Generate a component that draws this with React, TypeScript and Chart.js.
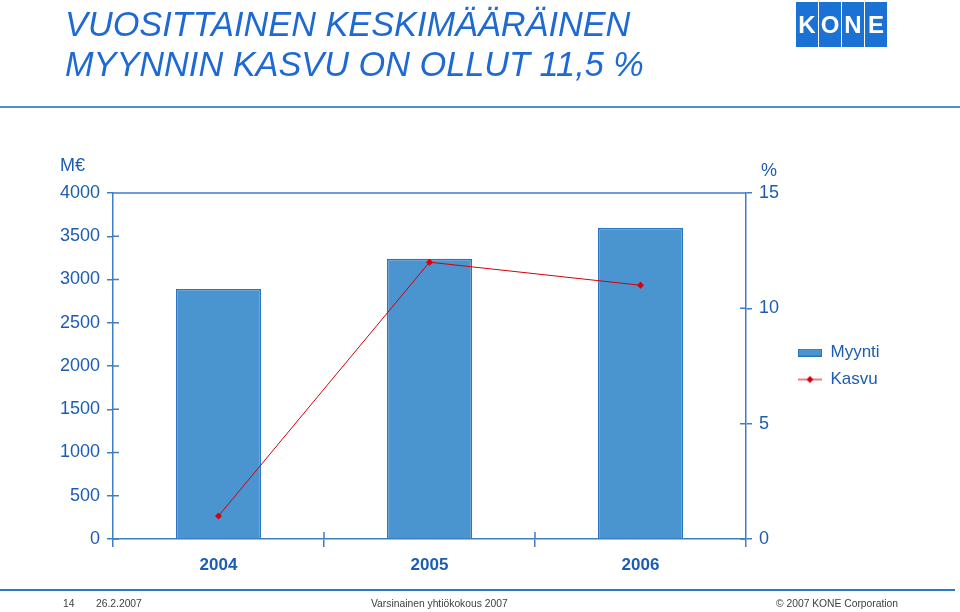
import React, { useEffect, useRef } from "react";
import { Chart, registerables } from "chart.js";

Chart.register(...registerables);

// ---- data ----
const years = ["2004", "2005", "2006"];
const myynti = [2890, 3240, 3595];
const kasvu = [1.0, 12.0, 11.0];
const seriesNames = ["Myynti", "Kasvu"];
const leftMax = 4000;
const leftStep = 500;
const rightMax = 15;
const rightStep = 5;
const titleLines = ["VUOSITTAINEN KESKIMÄÄRÄINEN", "MYYNNIN KASVU ON OLLUT 11,5 %"];
const logoLetters = ["K", "O", "N", "E"];

const FONT = "'Liberation Sans', Arial, Helvetica, sans-serif";
const TICK_BLUE = "#1c5db3";
const AXIS_BLUE = "#3d7ec6";
const BAR_FILL = "#4a94cf";
const BAR_BORDER = "#2a74c4";
const LINE_RED = "#d4000c";

function makeLegendImages() {
  const rect = document.createElement("canvas");
  rect.width = 24;
  rect.height = 8;
  const rc = rect.getContext("2d")!;
  rc.fillStyle = BAR_FILL;
  rc.fillRect(0.5, 0.5, 23, 7);
  rc.strokeStyle = BAR_BORDER;
  rc.lineWidth = 1;
  rc.strokeRect(0.5, 0.5, 23, 7);

  const ln = document.createElement("canvas");
  ln.width = 24;
  ln.height = 10;
  const lc = ln.getContext("2d")!;
  lc.strokeStyle = LINE_RED;
  lc.lineWidth = 1;
  lc.beginPath();
  lc.moveTo(0, 5);
  lc.lineTo(24, 5);
  lc.stroke();
  lc.fillStyle = LINE_RED;
  lc.beginPath();
  lc.moveTo(12, 1.5);
  lc.lineTo(15.5, 5);
  lc.lineTo(12, 8.5);
  lc.lineTo(8.5, 5);
  lc.closePath();
  lc.fill();
  return [rect, ln];
}

const innerTicks = {
  id: "innerTicks",
  afterDraw(chart: any) {
    const { ctx, chartArea } = chart;
    const y = chart.scales.y;
    const y1 = chart.scales.y1;
    const x = chart.scales.x;
    ctx.save();
    ctx.strokeStyle = AXIS_BLUE;
    ctx.lineWidth = 1.5;
    ctx.beginPath();
    // top border
    ctx.moveTo(chartArea.left, chartArea.top);
    ctx.lineTo(chartArea.right, chartArea.top);
    y.ticks.forEach((t: any) => {
      const p = y.getPixelForValue(t.value);
      ctx.moveTo(chartArea.left, p);
      ctx.lineTo(chartArea.left + 6, p);
    });
    y1.ticks.forEach((t: any) => {
      const p = y1.getPixelForValue(t.value);
      ctx.moveTo(chartArea.right, p);
      ctx.lineTo(chartArea.right - 6, p);
    });
    const half = (x.getPixelForTick(1) - x.getPixelForTick(0)) / 2;
    for (let i = 1; i < years.length; i++) {
      const p = x.getPixelForTick(i) - half;
      ctx.moveTo(p, chartArea.bottom);
      ctx.lineTo(p, chartArea.bottom - 7);
    }
    ctx.stroke();
    ctx.restore();
  },
};

function ChartView() {
  const ref = useRef<HTMLCanvasElement | null>(null);
  useEffect(() => {
    if (!ref.current) return;
    const imgs = makeLegendImages();
    const chart = new Chart(ref.current, {
      type: "bar",
      data: {
        labels: years,
        datasets: [
          {
            type: "bar",
            label: seriesNames[0],
            data: myynti,
            backgroundColor: BAR_FILL,
            borderColor: BAR_BORDER,
            borderWidth: 1.5,
            categoryPercentage: 1,
            barPercentage: 0.403,
            yAxisID: "y",
            order: 2,
          },
          {
            type: "line",
            label: seriesNames[1],
            data: kasvu,
            borderColor: LINE_RED,
            backgroundColor: LINE_RED,
            borderWidth: 1,
            pointStyle: "rectRot",
            pointRadius: 3.5,
            pointBorderWidth: 0,
            pointBackgroundColor: LINE_RED,
            yAxisID: "y1",
            order: 1,
          },
        ],
      },
      options: {
        animation: false,
        responsive: false,
        layout: { padding: { top: 193, left: 0, right: 72, bottom: 33 } },
        plugins: {
          tooltip: { enabled: false },
          legend: {
            position: "right",
            align: "center",
            fullSize: false,
            maxWidth: 100,
            labels: {
              usePointStyle: true,
              pointStyleWidth: 24,
              boxHeight: 10,
              padding: 10,
              color: TICK_BLUE,
              font: { family: FONT, size: 17 },
              generateLabels: () =>
                seriesNames.map((n, i) => ({
                  text: n,
                  pointStyle: imgs[i],
                  fillStyle: "transparent",
                  strokeStyle: "transparent",
                  lineWidth: 0,
                  hidden: false,
                  datasetIndex: i,
                  fontColor: TICK_BLUE,
                })),
            },
          },
        },
        scales: {
          x: {
            grid: {
              offset: true,
              drawOnChartArea: false,
              tickLength: 8,
              color: AXIS_BLUE,
              lineWidth: 1.5,
            },
            border: { color: AXIS_BLUE, width: 1.5 },
            ticks: {
              color: TICK_BLUE,
              padding: 8,
              font: { family: FONT, size: 17, weight: "bold" },
            },
            afterFit: (s: any) => {
              s.height = 40;
            },
          },
          y: {
            position: "left",
            min: 0,
            max: leftMax,
            ticks: {
              stepSize: leftStep,
              color: TICK_BLUE,
              padding: 7,
              font: { family: FONT, size: 18 },
              callback: (v: any) => String(v),
            },
            grid: {
              drawOnChartArea: false,
              tickLength: 6,
              color: AXIS_BLUE,
              lineWidth: 1.5,
            },
            border: { color: AXIS_BLUE, width: 1.5 },
            afterFit: (s: any) => {
              s.width = 113;
            },
          },
          y1: {
            position: "right",
            min: 0,
            max: rightMax,
            ticks: {
              stepSize: rightStep,
              color: TICK_BLUE,
              padding: 7,
              font: { family: FONT, size: 18 },
              callback: (v: any) => String(v),
            },
            grid: {
              drawOnChartArea: false,
              tickLength: 6,
              color: AXIS_BLUE,
              lineWidth: 1.5,
            },
            border: { color: AXIS_BLUE, width: 1.5 },
            afterFit: (s: any) => {
              s.width = 42;
            },
          },
        },
      },
      plugins: [innerTicks],
    } as any);
    return () => chart.destroy();
  }, []);
  return (
    <canvas
      ref={ref}
      width={960}
      height={612}
      style={{ position: "absolute", left: 0, top: 0, width: 960, height: 612 }}
    />
  );
}

const footStyle: React.CSSProperties = {
  position: "absolute",
  top: 598,
  fontSize: 10.3,
  color: "#404040",
  whiteSpace: "nowrap",
};

export default function App() {
  return (
    <div
      style={{
        position: "absolute",
        left: 0,
        top: 0,
        width: 960,
        height: 612,
        background: "#ffffff",
        overflow: "hidden",
        fontFamily: FONT,
      }}
    >
      <ChartView />
      <div
        style={{
          position: "absolute",
          left: 65,
          top: 4,
          color: "#1f6ad2",
          fontStyle: "italic",
          fontSize: 34.3,
          lineHeight: "40px",
          whiteSpace: "nowrap",
        }}
      >
        {titleLines[0]}
        <br />
        {titleLines[1]}
      </div>
      <div
        style={{
          position: "absolute",
          left: 796,
          top: 2,
          height: 45,
          display: "flex",
          gap: 1,
        }}
      >
        {logoLetters.map((l) => (
          <div
            key={l}
            style={{
              width: 22,
              height: 45,
              background: "#1c72d4",
              color: "#ffffff",
              fontWeight: "bold",
              fontSize: 24,
              lineHeight: "45px",
              textAlign: "center",
            }}
          >
            {l}
          </div>
        ))}
      </div>
      <div style={{ position: "absolute", left: 0, top: 106, width: 960, height: 2, background: "#4a8fd0" }} />
      <div style={{ position: "absolute", left: 60, top: 155, color: TICK_BLUE, fontSize: 18 }}>M€</div>
      <div style={{ position: "absolute", left: 761, top: 160, color: TICK_BLUE, fontSize: 18 }}>%</div>
      <div style={{ position: "absolute", left: 0, top: 589, width: 955, height: 2, background: "#2d78c8" }} />
      <div style={{ ...footStyle, left: 63 }}>14</div>
      <div style={{ ...footStyle, left: 96 }}>26.2.2007</div>
      <div style={{ ...footStyle, left: 371 }}>Varsinainen yhtiökokous 2007</div>
      <div style={{ ...footStyle, left: 776 }}>© 2007 KONE Corporation</div>
    </div>
  );
}
